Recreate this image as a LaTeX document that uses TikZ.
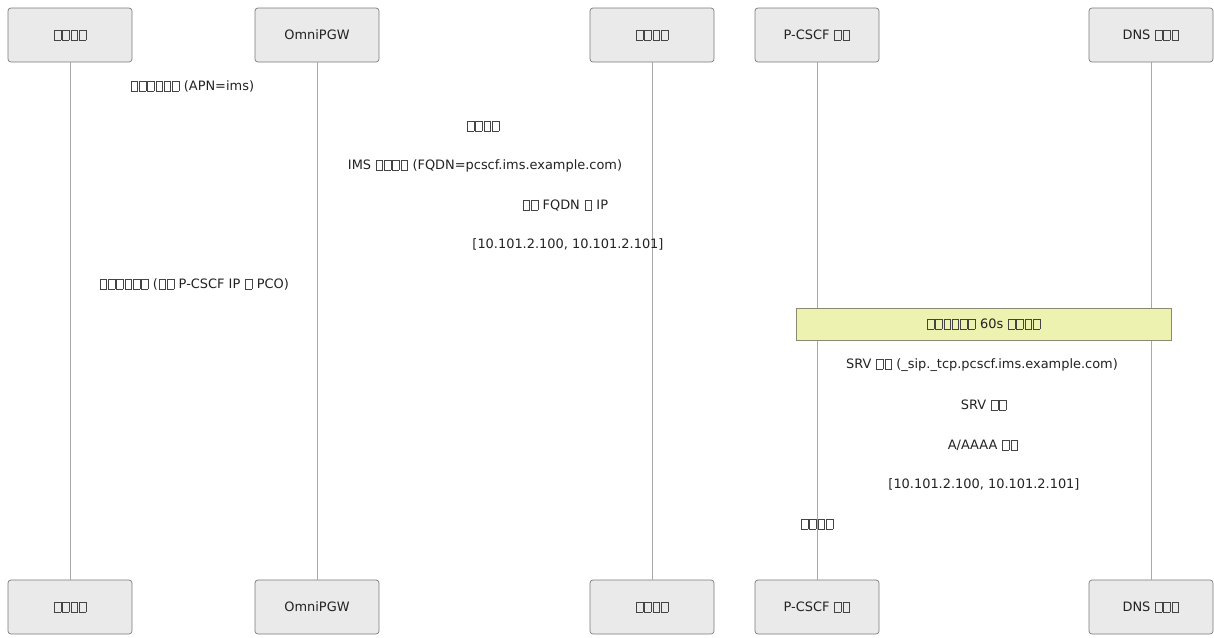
\documentclass[tikz,border=0pt]{standalone}
\usepackage{fontspec}
\setmainfont{DejaVu Sans}
\definecolor{actfill}{HTML}{EAEAEA}
\definecolor{actdraw}{HTML}{7A7A7A}
\definecolor{lifeline}{HTML}{A8A8A8}
\definecolor{notefill}{HTML}{EEF2B0}
\definecolor{notedraw}{HTML}{8A8A70}
\definecolor{txt}{HTML}{222222}
\definecolor{tofu}{HTML}{444444}
\newcommand{\tf}{\kern0.05em{\color{tofu}\setlength{\fboxsep}{0pt}\setlength{\fboxrule}{0.3pt}\fbox{\rule{0pt}{0.72em}\rule{0.48em}{0pt}}}\kern0.05em}
\tikzset{
  actor/.style={draw=actdraw, fill=actfill, rounded corners=2.2pt, minimum width=93pt, minimum height=40.5pt, inner sep=0pt, font=\fontsize{9.7}{11}\selectfont, text=txt, line width=0.5pt},
  life/.style={draw=lifeline, line width=0.6pt},
  msg/.style={inner sep=0pt, font=\fontsize{9.7}{11}\selectfont, text=txt, anchor=base},
  notebox/.style={draw=notedraw, fill=notefill, minimum width=281.25pt, minimum height=24pt, inner sep=0pt, font=\fontsize{9.7}{11}\selectfont, text=txt, line width=0.55pt},
}
\begin{document}
\begin{tikzpicture}[x=0.75pt, y=-0.75pt]
\useasboundingbox (0,0) rectangle (1214,637);
% top actors
\node[actor] (a1) at (70,35) {\tf\tf\tf\tf};
\node[actor] (a2) at (317,35) {OmniPGW};
\node[actor] (a3) at (652,35) {\tf\tf\tf\tf};
\node[actor] (a4) at (817,35) {P-CSCF \tf\tf};
\node[actor] (a5) at (1151,35) {DNS \tf\tf\tf};
% bottom actors
\node[actor] (b1) at (70,607) {\tf\tf\tf\tf};
\node[actor] (b2) at (317,607) {OmniPGW};
\node[actor] (b3) at (652,607) {\tf\tf\tf\tf};
\node[actor] (b4) at (817,607) {P-CSCF \tf\tf};
\node[actor] (b5) at (1151,607) {DNS \tf\tf\tf};
% lifelines
\foreach \i in {1,...,5} { \draw[life] (a\i.south) -- (b\i.north); }
% note
\node[notebox] (n1) at (983.5,324) {\tf\tf\tf\tf\tf\tf\ 60s \tf\tf\tf\tf};
% message labels
\node[msg] (m1) at (192,90.5) {\tf\tf\tf\tf\tf\tf\ (APN=ims)};
\node[msg] (m2) at (483,131) {\tf\tf\tf\tf};
\node[msg] (m3) at (485,169.5) {IMS \tf\tf\tf\tf\ (FQDN=pcscf.ims.example.com)};
\node[msg] (m4) at (565,209.5) {\tf\tf\ FQDN \tf\ IP};
\node[msg] (m5) at (568,248.5) {[10.101.2.100, 10.101.2.101]};
\node[msg] (m6) at (194,288.5) {\tf\tf\tf\tf\tf\tf\ (\tf\tf\ P-CSCF IP \tf\ PCO)};
\node[msg] (m7) at (982,368.5) {SRV \tf\tf\ (\_sip.\_tcp.pcscf.ims.example.com)};
\node[msg] (m8) at (984,409.5) {SRV \tf\tf};
\node[msg] (m9) at (983,449.5) {A/AAAA \tf\tf};
\node[msg] (m10) at (984,488.5) {[10.101.2.100, 10.101.2.101]};
\node[msg] (m11) at (817,528.5) {\tf\tf\tf\tf};
\end{tikzpicture}
\end{document}
